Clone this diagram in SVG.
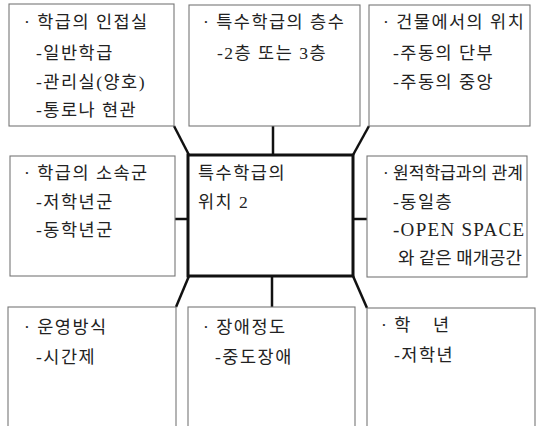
<svg xmlns="http://www.w3.org/2000/svg" width="538" height="426" viewBox="0 0 538 426">
<style>
.box{fill:#fff;stroke:#777;stroke-width:1.1}
.center{fill:#fff;stroke:#111;stroke-width:3}
.con{stroke:#111;stroke-width:2.5;fill:none}
text{font-family:"Liberation Serif","Noto Sans CJK KR",serif;font-size:17.5px;letter-spacing:1.5px;fill:#222}
.latin{font-size:19px;letter-spacing:0}
.fit{letter-spacing:0}
</style>
<rect width="538" height="426" fill="#fff"/>
<g id="connectors">
<line class="con" x1="174" y1="126" x2="189" y2="155"/>
<line class="con" x1="273" y1="126" x2="273" y2="155"/>
<line class="con" x1="369" y1="126" x2="353" y2="155"/>
<line class="con" x1="175" y1="219" x2="188" y2="219"/>
<line class="con" x1="353" y1="219" x2="367" y2="219"/>
<line class="con" x1="189" y1="276" x2="176" y2="307"/>
<line class="con" x1="272" y1="276" x2="272" y2="307"/>
<line class="con" x1="353" y1="276" x2="367" y2="308"/>
</g>
<g id="n-top-left">
<rect class="box" x="9" y="4" width="165" height="122"/>
<text x="24" y="28">· 학급의 인접실</text>
<text x="36" y="59">-일반학급</text>
<text x="36" y="88">-관리실(양호)</text>
<text x="36" y="116">-통로나 현관</text>
</g>
<g id="n-top-mid">
<rect class="box" x="189" y="5" width="171" height="121"/>
<text x="203" y="28">· 특수학급의 층수</text>
<text x="217" y="59">-2층 또는 3층</text>
</g>
<g id="n-top-right">
<rect class="box" x="369" y="5" width="161" height="121"/>
<text x="383" y="28">· 건물에서의 위치</text>
<text x="393" y="59">-주동의 단부</text>
<text x="393" y="88">-주동의 중앙</text>
</g>
<g id="n-mid-left">
<rect class="box" x="10" y="156" width="165" height="120"/>
<text x="24" y="179">· 학급의 소속군</text>
<text x="36" y="208">-저학년군</text>
<text x="36" y="236">-동학년군</text>
</g>
<g id="n-center">
<rect class="center" x="188" y="155" width="165" height="121"/>
<text x="198" y="179">특수학급의</text>
<text x="198" y="208">위치 2</text>
</g>
<g id="n-mid-right">
<rect class="box" x="367" y="156" width="160" height="121"/>
<text class="fit" x="383" y="179" textLength="140" lengthAdjust="spacingAndGlyphs">· 원적학급과의 관계</text>
<text x="393" y="208">-동일층</text>
<text class="latin" x="393" y="236" textLength="131" lengthAdjust="spacing">-OPEN SPACE</text>
<text class="fit" x="398" y="264" textLength="124" lengthAdjust="spacingAndGlyphs">와 같은 매개공간</text>
</g>
<g id="n-bot-left">
<rect class="box" x="8" y="307" width="168" height="130"/>
<text x="24" y="333">· 운영방식</text>
<text x="36" y="363">-시간제</text>
</g>
<g id="n-bot-mid">
<rect class="box" x="188" y="307" width="167" height="130"/>
<text x="203" y="333">· 장애정도</text>
<text x="215" y="363">-중도장애</text>
</g>
<g id="n-bot-right">
<rect class="box" x="367" y="308" width="168" height="130"/>
<text x="381" y="331">· 학<tspan x="433">년</tspan></text>
<text x="394" y="361">-저학년</text>
</g>
</svg>
